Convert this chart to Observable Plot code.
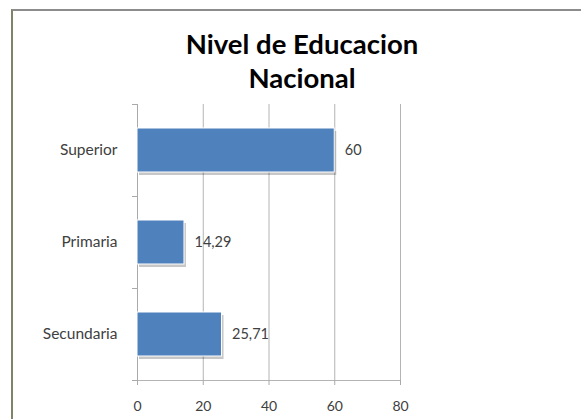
<!DOCTYPE html>
<html>
<head>
<meta charset="utf-8">
<script src="https://cdn.jsdelivr.net/npm/d3@7"></script>
<script src="https://cdn.jsdelivr.net/npm/@observablehq/plot@0.6"></script>
<style>
  html, body { margin: 0; padding: 0; background: #fff; width: 581px; height: 419px; overflow: hidden; }
  #frame { position: absolute; left: 11px; top: 9px; width: 700px; height: 600px;
           border-left: 2px solid #7d8468; border-top: 2px solid #8c8c8c; }
  #title { position: absolute; left: 0; top: 27px; width: 604px; text-align: center;
           font-family: Lato, sans-serif; font-weight: bold; font-size: 27.5px; line-height: 34px; color: #000; }
  #chart { position: absolute; left: 0; top: 95px; }
</style>
</head>
<body>
<div id="frame"></div>
<div id="title">Nivel de Educacion<br>Nacional</div>
<div id="chart"></div>
<script>
const categories = ["Superior", "Primaria", "Secundaria"];
const values = [60, 14.29, 25.71];
const xTicks = [0, 20, 40, 60, 80];
const gridTicks = [20, 40, 60, 80];

const data = categories.map((c, i) => ({ cat: c, value: values[i] }));
const fmt = v => String(v).replace(".", ",");
const step = 92;

const plot = Plot.plot({
  width: 581,
  height: 324,
  marginLeft: 137,
  marginRight: 181,
  marginTop: 9,
  marginBottom: 39,
  style: { fontFamily: "Lato, sans-serif", fontSize: "14px", color: "#404040", background: "transparent" },
  x: { domain: [0, 80], label: null },
  y: { domain: categories, paddingInner: 0.52, paddingOuter: 0.26, label: null },
  marks: [
    Plot.gridX(gridTicks, { stroke: "#b4b4b4", strokeOpacity: 1 }),
    Plot.ruleX([0], { stroke: "#aaaaaa" }),
    Plot.axisY({ text: null, tickSize: 5, dy: -step / 2, stroke: "#aaaaaa", label: null }),
    Plot.axisY(["Secundaria"], { text: null, tickSize: 5, dy: step / 2, stroke: "#aaaaaa", label: null }),
    Plot.axisY({ tickSize: 0, tickPadding: 20, label: null, fill: "#404040", fontSize: 15.5 }),
    Plot.frame({ anchor: "bottom", stroke: "#b4b4b4" }),
    Plot.axisX(xTicks, { tickSize: 5, tickPadding: 16, label: null, stroke: "#aaaaaa", fill: "#404040" }),
    Plot.barX(data, { x: "value", y: "cat", fill: "#000", fillOpacity: 0.22, dx: 2, dy: 3 }),
    Plot.barX(data, { x: "value", y: "cat", fill: "#4f81bd", stroke: "#ffffff", strokeWidth: 1 }),
    Plot.text(data, { x: "value", y: "cat", text: d => fmt(d.value), dx: 10, textAnchor: "start", fill: "#404040", fontSize: 14.5 })
  ]
});
document.getElementById("chart").appendChild(plot);
</script>
</body>
</html>
